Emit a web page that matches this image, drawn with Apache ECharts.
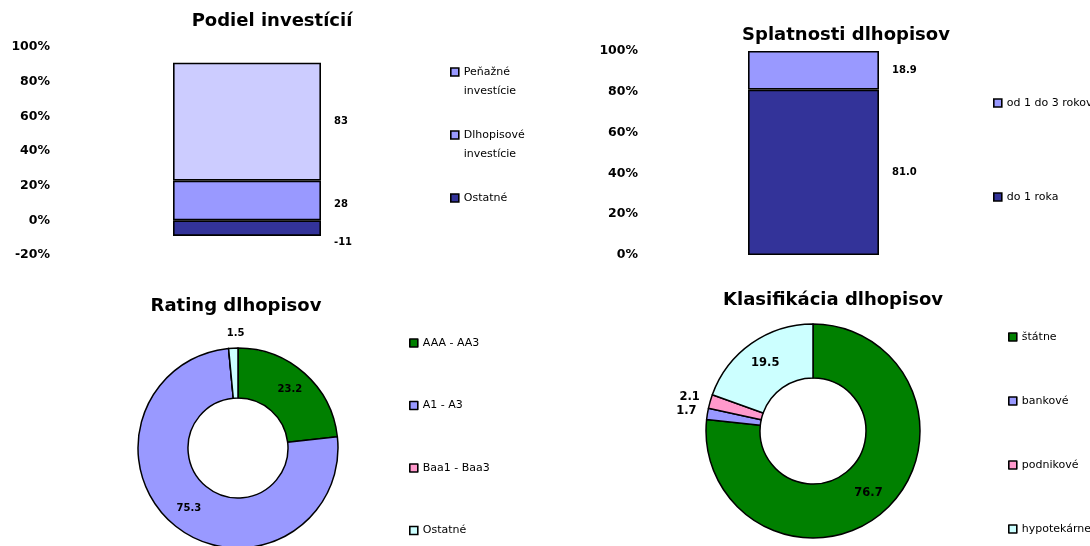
<!DOCTYPE html>
<html lang="sk">

<head>
    <meta charset="UTF-8">
    <title>Portfólio fondu</title>
    <script src="https://cdn.jsdelivr.net/npm/echarts@6/dist/echarts.min.js"></script>
    <style>
        html,
        body {
            margin: 0;
            padding: 0;
            background: #fff;
        }

        #chart {
            width: 1090px;
            height: 546px;
        }
    </style>
</head>

<body>
    <div id="chart"></div>
    <script>
        // Podiel investícií (poradie v stĺpci odspodu)
        let podielNames = ['Ostatné', 'Dlhopisové investície', 'Peňažné investície'];
        let podielValues = [-11, 28, 83];
        let podielColors = ['#333399', '#9999FF', '#CCCCFF'];
        let podielTicks = [-20, 100, 20];

        // Splatnosti dlhopisov
        let splatNames = ['do 1 roka', 'od 1 do 3 rokov'];
        let splatValues = [81.0, 18.9];
        let splatColors = ['#333399', '#9999FF'];
        let splatTicks = [0, 100, 20];

        // Rating dlhopisov
        let ratingNames = ['AAA - AA3', 'A1 - A3', 'Baa1 - Baa3', 'Ostatné'];
        let ratingValues = [23.2, 75.3, 0, 1.5];
        let ratingColors = ['#008000', '#9999FF', '#FF99CC', '#CCFFFF'];

        // Klasifikácia dlhopisov
        let klasNames = ['štátne', 'bankové', 'podnikové', 'hypotekárne'];
        let klasValues = [76.7, 1.7, 2.1, 19.5];
        let klasColors = ['#008000', '#9999FF', '#FF99CC', '#CCFFFF'];

        const FONT = 'DejaVu Sans';

        // 100% skladaný stĺpec - podiel z absolútneho súčtu (ako Excel)
        function toPercent(values) {
            let sum = 0;
            values.forEach(function (v) { sum += Math.abs(v); });
            return values.map(function (v) { return v / sum * 100; });
        }

        function valueAxis(grid, ticks) {
            return {
                type: 'value',
                gridIndex: grid,
                min: ticks[0],
                max: ticks[1],
                interval: ticks[2],
                axisLine: { show: false },
                axisTick: { show: false },
                splitLine: { show: false },
                axisLabel: {
                    formatter: '{value}%',
                    fontFamily: FONT,
                    fontWeight: 'bold',
                    fontSize: 12.5,
                    color: '#000',
                    margin: 8
                }
            };
        }

        function barSeries(names, values, colors, grid, width, offsets) {
            let pct = toPercent(values);
            return names.map(function (name, i) {
                return {
                    type: 'bar',
                    name: name,
                    xAxisIndex: grid,
                    yAxisIndex: grid,
                    stack: 'stk' + grid,
                    barWidth: width,
                    data: [pct[i]],
                    itemStyle: { color: colors[i], borderColor: '#000', borderWidth: 1.6 },
                    label: {
                        show: true,
                        position: 'right',
                        distance: 13,
                        offset: offsets ? offsets[i] : [0, 0],
                        fontFamily: FONT,
                        fontWeight: 'bold',
                        fontSize: 10,
                        color: '#000',
                        formatter: function () {
                            return grid === 0 ? String(values[i]) : values[i].toFixed(1);
                        }
                    }
                };
            });
        }

        function pieSeries(names, values, colors, center, radius, fontSize, lineLen) {
            return {
                type: 'pie',
                center: center,
                radius: radius,
                startAngle: 90,
                clockwise: true,
                avoidLabelOverlap: false,
                itemStyle: { borderColor: '#000', borderWidth: 1.5 },
                label: {
                    position: 'inside',
                    fontFamily: FONT,
                    fontWeight: 'bold',
                    fontSize: fontSize,
                    color: '#000',
                    formatter: function (p) { return p.value.toFixed(1); }
                },
                labelLine: { show: false, length: lineLen[0], length2: lineLen[1] },
                emphasis: { disabled: true },
                data: names.map(function (name, i) {
                    let item = { name: name, value: values[i], itemStyle: { color: colors[i] } };
                    if (values[i] === 0) {
                        item.label = { show: false };
                    } else if (values[i] < 5) {
                        item.label = { position: 'outside' };
                    }
                    return item;
                })
            };
        }

        function legendItems(names, colors, order) {
            return order.map(function (i) {
                return { name: names[i], itemStyle: { color: colors[i] } };
            });
        }

        let legendBase = {
            orient: 'vertical',
            padding: 0,
            icon: 'rect',
            itemWidth: 8,
            itemHeight: 8,
            selectedMode: false,
            itemStyle: { borderColor: '#000', borderWidth: 1.6 },
            textStyle: { fontFamily: FONT, fontSize: 11, color: '#000', lineHeight: 13 }
        };

        // legenda prvého grafu: v origináli má aj Peňažné investície ikonu v strednom odtieni
        let podielLegend = legendItems(podielNames, ['#333399', '#9999FF', '#9999FF'], [2, 1, 0]);

        let titleStyle = { fontFamily: FONT, fontWeight: 'bold', fontSize: 18, color: '#000' };

        let option = {
            animation: false,
            backgroundColor: '#fff',
            textStyle: { fontFamily: FONT },
            title: [
                { text: 'Podiel investícií', left: 272, top: 12, textAlign: 'center', padding: 0, textStyle: titleStyle },
                { text: 'Splatnosti dlhopisov', left: 846, top: 26, textAlign: 'center', padding: 0, textStyle: titleStyle },
                { text: 'Rating dlhopisov', left: 236, top: 297, textAlign: 'center', padding: 0, textStyle: titleStyle },
                { text: 'Klasifikácia dlhopisov', left: 833, top: 291, textAlign: 'center', padding: 0, textStyle: titleStyle }
            ],
            legend: [
                // dvojriadkové položky: prázdny riadok navrchu, aby ikona sedela pri prvom riadku textu
                Object.assign({}, legendBase, {
                    left: 450, top: 43.5, itemGap: 6,
                    data: podielLegend,
                    textStyle: { fontFamily: FONT, fontSize: 11, color: '#000', lineHeight: 19 },
                    formatter: function (name) {
                        let parts = name.split(' ');
                        return parts.length > 1 ? ' \n' + parts.join('\n') : ' \n' + name + '\n ';
                    }
                }),
                Object.assign({}, legendBase, {
                    left: 993, top: 96.5, itemGap: 81,
                    data: legendItems(splatNames, splatColors, [1, 0])
                }),
                Object.assign({}, legendBase, {
                    left: 409, top: 336.5, itemGap: 49.5,
                    data: legendItems(ratingNames, ratingColors, [0, 1, 2, 3])
                }),
                Object.assign({}, legendBase, {
                    left: 1008, top: 330.5, itemGap: 51,
                    data: legendItems(klasNames, klasColors, [0, 1, 2, 3])
                })
            ],
            grid: [
                { left: 58, top: 47, width: 378, height: 208 },
                { left: 646, top: 51, width: 335, height: 204 }
            ],
            xAxis: [
                { type: 'category', gridIndex: 0, data: [''], show: false },
                { type: 'category', gridIndex: 1, data: [''], show: false }
            ],
            yAxis: [
                valueAxis(0, podielTicks),
                valueAxis(1, splatTicks)
            ],
            series: []
                .concat(barSeries(podielNames, podielValues, podielColors, 0, 148, [[0, 14], [0, 4], [0, 0]]))
                .concat(barSeries(splatNames, splatValues, splatColors, 1, 131))
                .concat([
                    pieSeries(ratingNames, ratingValues, ratingColors, [238, 448], [50, 100], 10, [15, -17]),
                    pieSeries(klasNames, klasValues, klasColors, [813, 431], [53, 107], 11.5, [16, -10])
                ])
        };

        let myChart = echarts.init(document.getElementById('chart'));
        myChart.setOption(option);
    </script>
</body>

</html>
